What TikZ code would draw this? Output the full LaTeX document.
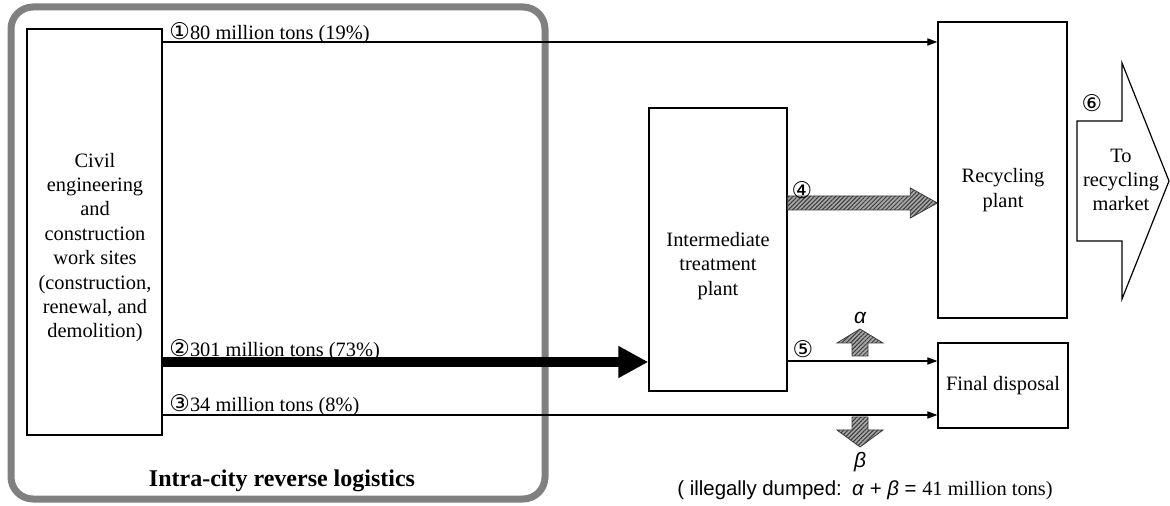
\documentclass[tikz,border=0pt]{standalone}
\usepackage{fontspec}
\setmainfont{Liberation Serif}
\setsansfont{Liberation Sans}
\newfontfamily\circfont{DejaVu Sans}
\usetikzlibrary{arrows.meta,positioning,calc,patterns.meta}
\definecolor{FrameGray}{HTML}{808080}
\definecolor{HatchGray}{HTML}{3C3C3C}
\newcommand{\cnum}[1]{{\circfont\fontsize{11.5}{12}\selectfont #1}}

\begin{document}
\begin{tikzpicture}[x=0.5pt, y=-0.5pt,
    box/.style={draw, line width=0.7pt, inner sep=0pt},
    boxtext/.style={font=\fontsize{10.2}{12.2}\selectfont, align=center, inner sep=0pt},
    flowlabel/.style={font=\fontsize{10.2}{12.2}\selectfont, anchor=base west, inner sep=0pt},
    numlabel/.style={inner sep=0pt},
    greeklabel/.style={font=\sffamily\itshape\fontsize{10.5}{12}\selectfont, inner sep=0pt},
    arr/.style={-{Triangle[length=5pt,width=3.6pt]}, line width=0.6pt},
    bigarr/.style={-{Triangle[length=15pt,width=15pt]}, line width=5pt},
    hatched/.style={draw=HatchGray, line width=0.4pt, fill=gray!70,
      postaction={pattern={Lines[angle=45,distance=1.5pt,line width=0.5pt]}, pattern color=HatchGray}}
  ]
    \useasboundingbox (0,0) rectangle (1170,506);

    % city frame
    \draw[line width=3.5pt, draw=FrameGray, rounded corners=11pt] (11,7) rectangle (545,499);
    \node[font=\fontsize{12}{14}\selectfont\bfseries, inner sep=0pt] (title) at (282,481) {Intra-city reverse logistics};

    % boxes
    \node[box, minimum width=67.5pt, minimum height=203pt] (civ) at (94.5,232) {};
    \node[boxtext] (civtext) at (95,247.5) {Civil\\engineering\\and\\construction\\work sites\\(construction,\\renewal, and\\demolition)};
    \node[box, minimum width=69pt, minimum height=141.5pt] (inter) at (718,249.5) {};
    \node[boxtext] (intertext) at (718,266) {Intermediate\\treatment\\plant};
    \node[box, minimum width=64.5pt, minimum height=148pt] (rec) at (1002.5,170) {};
    \node[boxtext] (rectext) at (1003,190) {Recycling\\plant};
    \node[box, boxtext, minimum width=65pt, minimum height=42.5pt] (fin) at (1003,385.5) {Final disposal};

    % flows
    \draw[arr] (civ.east |- 0,42) -- (rec.west |- 0,42);
    \draw[bigarr] (civ.east |- 0,362) -- (inter.west |- 0,362);
    \draw[arr] (civ.east |- 0,415) -- (fin.west |- 0,415);
    \draw[arr] (inter.east |- 0,361) -- (fin.west |- 0,361);

    \coordinate (s4) at (inter.east |- 0,203);
    \coordinate (e4) at (rec.west |- 0,203);
    \draw[hatched] ($(s4)+(0,-7)$) -- ($(e4)+(-27,-7)$) -- ($(e4)+(-27,-15)$) -- (e4)
      -- ($(e4)+(-27,15)$) -- ($(e4)+(-27,7)$) -- ($(s4)+(0,7)$) -- cycle;

    \node[flowlabel] (l1) at (169,39.5) {\cnum{①}80 million tons (19\%)};
    \node[flowlabel] (l2) at (169,357) {\cnum{②}301 million tons (73\%)};
    \node[flowlabel] (l3) at (169,412) {\cnum{③}34 million tons (8\%)};
    \node[numlabel] (n4) at (802,190) {\cnum{④}};
    \node[numlabel] (n5) at (803,349) {\cnum{⑤}};
    \node[numlabel] (n6) at (1092,103) {\cnum{⑥}};

    % illegal dumping
    \draw[hatched] (852,356) -- (852,343) -- (837,343) -- (860,329) -- (883,343) -- (868,343) -- (868,356) -- cycle;
    \draw[hatched] (852,417) -- (852,430) -- (837,430) -- (860,447) -- (883,430) -- (868,430) -- (868,417) -- cycle;
    \node[greeklabel] (alpha) at (860,318) {α};
    \node[greeklabel] (beta) at (860,462) {β};
    \node[inner sep=0pt, font=\fontsize{10.2}{12}\selectfont] (note) at (865,490)
      {\sffamily ( illegally dumped:\enspace\textit{α} + \textit{β} = \rmfamily 41 million tons)};

    % to market
    \draw[line width=0.6pt, fill=white] (1077,121) -- (1122,121) -- (1122,63) -- (1169,181)
      -- (1122,299) -- (1122,241) -- (1077,241) -- cycle;
    \node[boxtext] (mkt) at (1121,180) {To\\recycling\\market};
\end{tikzpicture}
\end{document}
